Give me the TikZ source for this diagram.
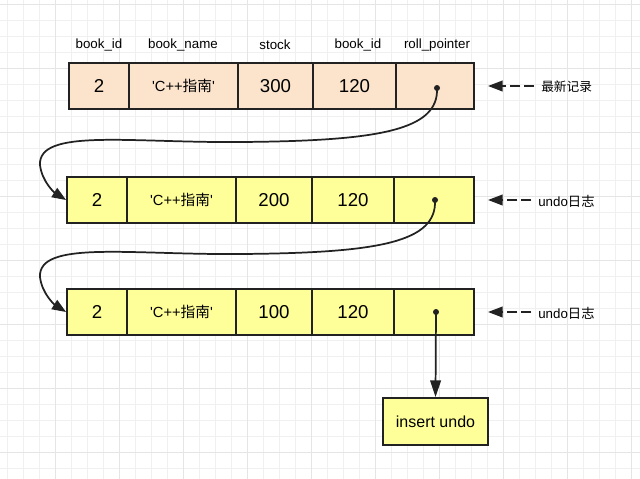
\documentclass[tikz,border=0pt]{standalone}
\usepackage{fontspec}
\setmainfont{Liberation Sans}
\newfontfamily\cjk{Noto Sans CJK SC}
\usetikzlibrary{arrows.meta}
\definecolor{peach}{HTML}{FCE4CC}
\definecolor{lyellow}{HTML}{FFFF99}
\definecolor{ink}{HTML}{222222}
\definecolor{gminor}{HTML}{F0F0F0}
\definecolor{gmajor}{HTML}{E5E5E5}
\newcommand{\sq}{\textquotesingle}
\tikzset{
  cellbox/.style={draw=ink, line width=1.4pt, minimum height=34.5pt, inner sep=0pt, font=\fontsize{14}{16}\selectfont},
  newrow/.style={cellbox, fill=peach},
  oldrow/.style={cellbox, fill=lyellow},
  namecell/.style={font=\fontsize{11}{13}\selectfont},
  header/.style={font=\fontsize{10}{12}\selectfont, inner sep=0pt},
  sidelabel/.style={font=\fontsize{10}{12}\selectfont, inner sep=0pt, anchor=west},
  ptr/.style={circle, fill=ink, inner sep=0pt, minimum size=4.5pt},
  link/.style={draw=ink, line width=1.3pt, -{Triangle[length=10.5pt,width=8pt]}},
  marker/.style={draw=ink, line width=1.3pt, dash pattern=on 7.5pt off 3pt, -{Triangle[length=11pt,width=8pt]}},
  gridminor/.style={gminor, line width=0.6pt},
  gridmajor/.style={gmajor, line width=0.7pt}
}
\begin{document}
\begin{tikzpicture}[x=0.75pt, y=-0.75pt]
\useasboundingbox (0,0) rectangle (640,479);
\fill[white] (0,0) rectangle (640,479);
% grid
\foreach \x in {7,23,...,639} \draw[gridminor] (\x,0) -- (\x,479);
\foreach \y in {4,20,...,479} \draw[gridminor] (0,\y) -- (640,\y);
\foreach \x in {55,119,...,639} \draw[gridmajor] (\x,0) -- (\x,479);
\foreach \y in {4,68,...,479} \draw[gridmajor] (0,\y) -- (640,\y);

% headers
\node[header] (h1) at (99,45) {book\_id};
\node[header] (h2) at (183,45) {book\_name};
\node[header] (h3) at (275,45) {stock};
\node[header] (h4) at (358,45) {book\_id};
\node[header] (h5) at (437,45) {roll\_pointer};

% row 1
\node[newrow, minimum width=45pt] (a1) at (99,86) {2};
\node[newrow, namecell, minimum width=81.75pt] (a2) at (183.5,86) {\sq C++{\cjk 指南}\sq};
\node[newrow, minimum width=56.25pt] (a3) at (275.5,86) {300};
\node[newrow, minimum width=62.25pt] (a4) at (354.5,86) {120};
\node[newrow, minimum width=58.5pt] (a5) at (435,86) {};

% row 2
\node[oldrow, minimum width=45pt] (b1) at (97,200) {2};
\node[oldrow, namecell, minimum width=81.75pt] (b2) at (181.5,200) {\sq C++{\cjk 指南}\sq};
\node[oldrow, minimum width=57pt] (b3) at (274,200) {200};
\node[oldrow, minimum width=61.5pt] (b4) at (353,200) {120};
\node[oldrow, minimum width=60pt] (b5) at (434,200) {};

% row 3
\node[oldrow, minimum width=45pt] (c1) at (97,312) {2};
\node[oldrow, namecell, minimum width=81.75pt] (c2) at (181.5,312) {\sq C++{\cjk 指南}\sq};
\node[oldrow, minimum width=57pt] (c3) at (274,312) {100};
\node[oldrow, minimum width=61.5pt] (c4) at (353,312) {120};
\node[oldrow, minimum width=60pt] (c5) at (434,312) {};

% insert undo
\node[oldrow, minimum width=78.75pt, minimum height=35.25pt, font=\fontsize{12}{14}\selectfont] (iu) at (435.5,421.5) {insert undo};

% pointers
\node[ptr] (p1) at (437,88) {};
\node[ptr] (p2) at (435,200) {};
\node[ptr] (p3) at (436,312) {};

% links
\draw[link] (p1.center) .. controls (439,130) and (380,141) .. (240,142)
  .. controls (130,143) and (38,128) .. (40,165)
  .. controls (42,182) and (55,193) .. (b1.west);
\draw[link] (p2.center) .. controls (437,242) and (380,253) .. (240,254)
  .. controls (130,255) and (38,240) .. (40,277)
  .. controls (42,294) and (55,305) .. (c1.west);
\draw[link, -{Triangle[length=12.5pt,width=8pt]}] (p3.center) -- (iu.north);

% side labels
\node[sidelabel, font=\fontsize{9.5}{12}\selectfont\cjk] (l1) at (541,87) {最新记录};
\node[sidelabel] (l2) at (538,201) {undo{\cjk 日志}};
\node[sidelabel] (l3) at (538,313) {undo{\cjk 日志}};
\coordinate (t1) at (488,86);
\coordinate (t2) at (488,200);
\coordinate (t3) at (488,312);
\draw[marker] ([xshift=-5pt]l1.west |- t1) -- (t1);
\draw[marker] ([xshift=-5pt]l2.west |- t2) -- (t2);
\draw[marker] ([xshift=-5pt]l3.west |- t3) -- (t3);
\end{tikzpicture}
\end{document}
